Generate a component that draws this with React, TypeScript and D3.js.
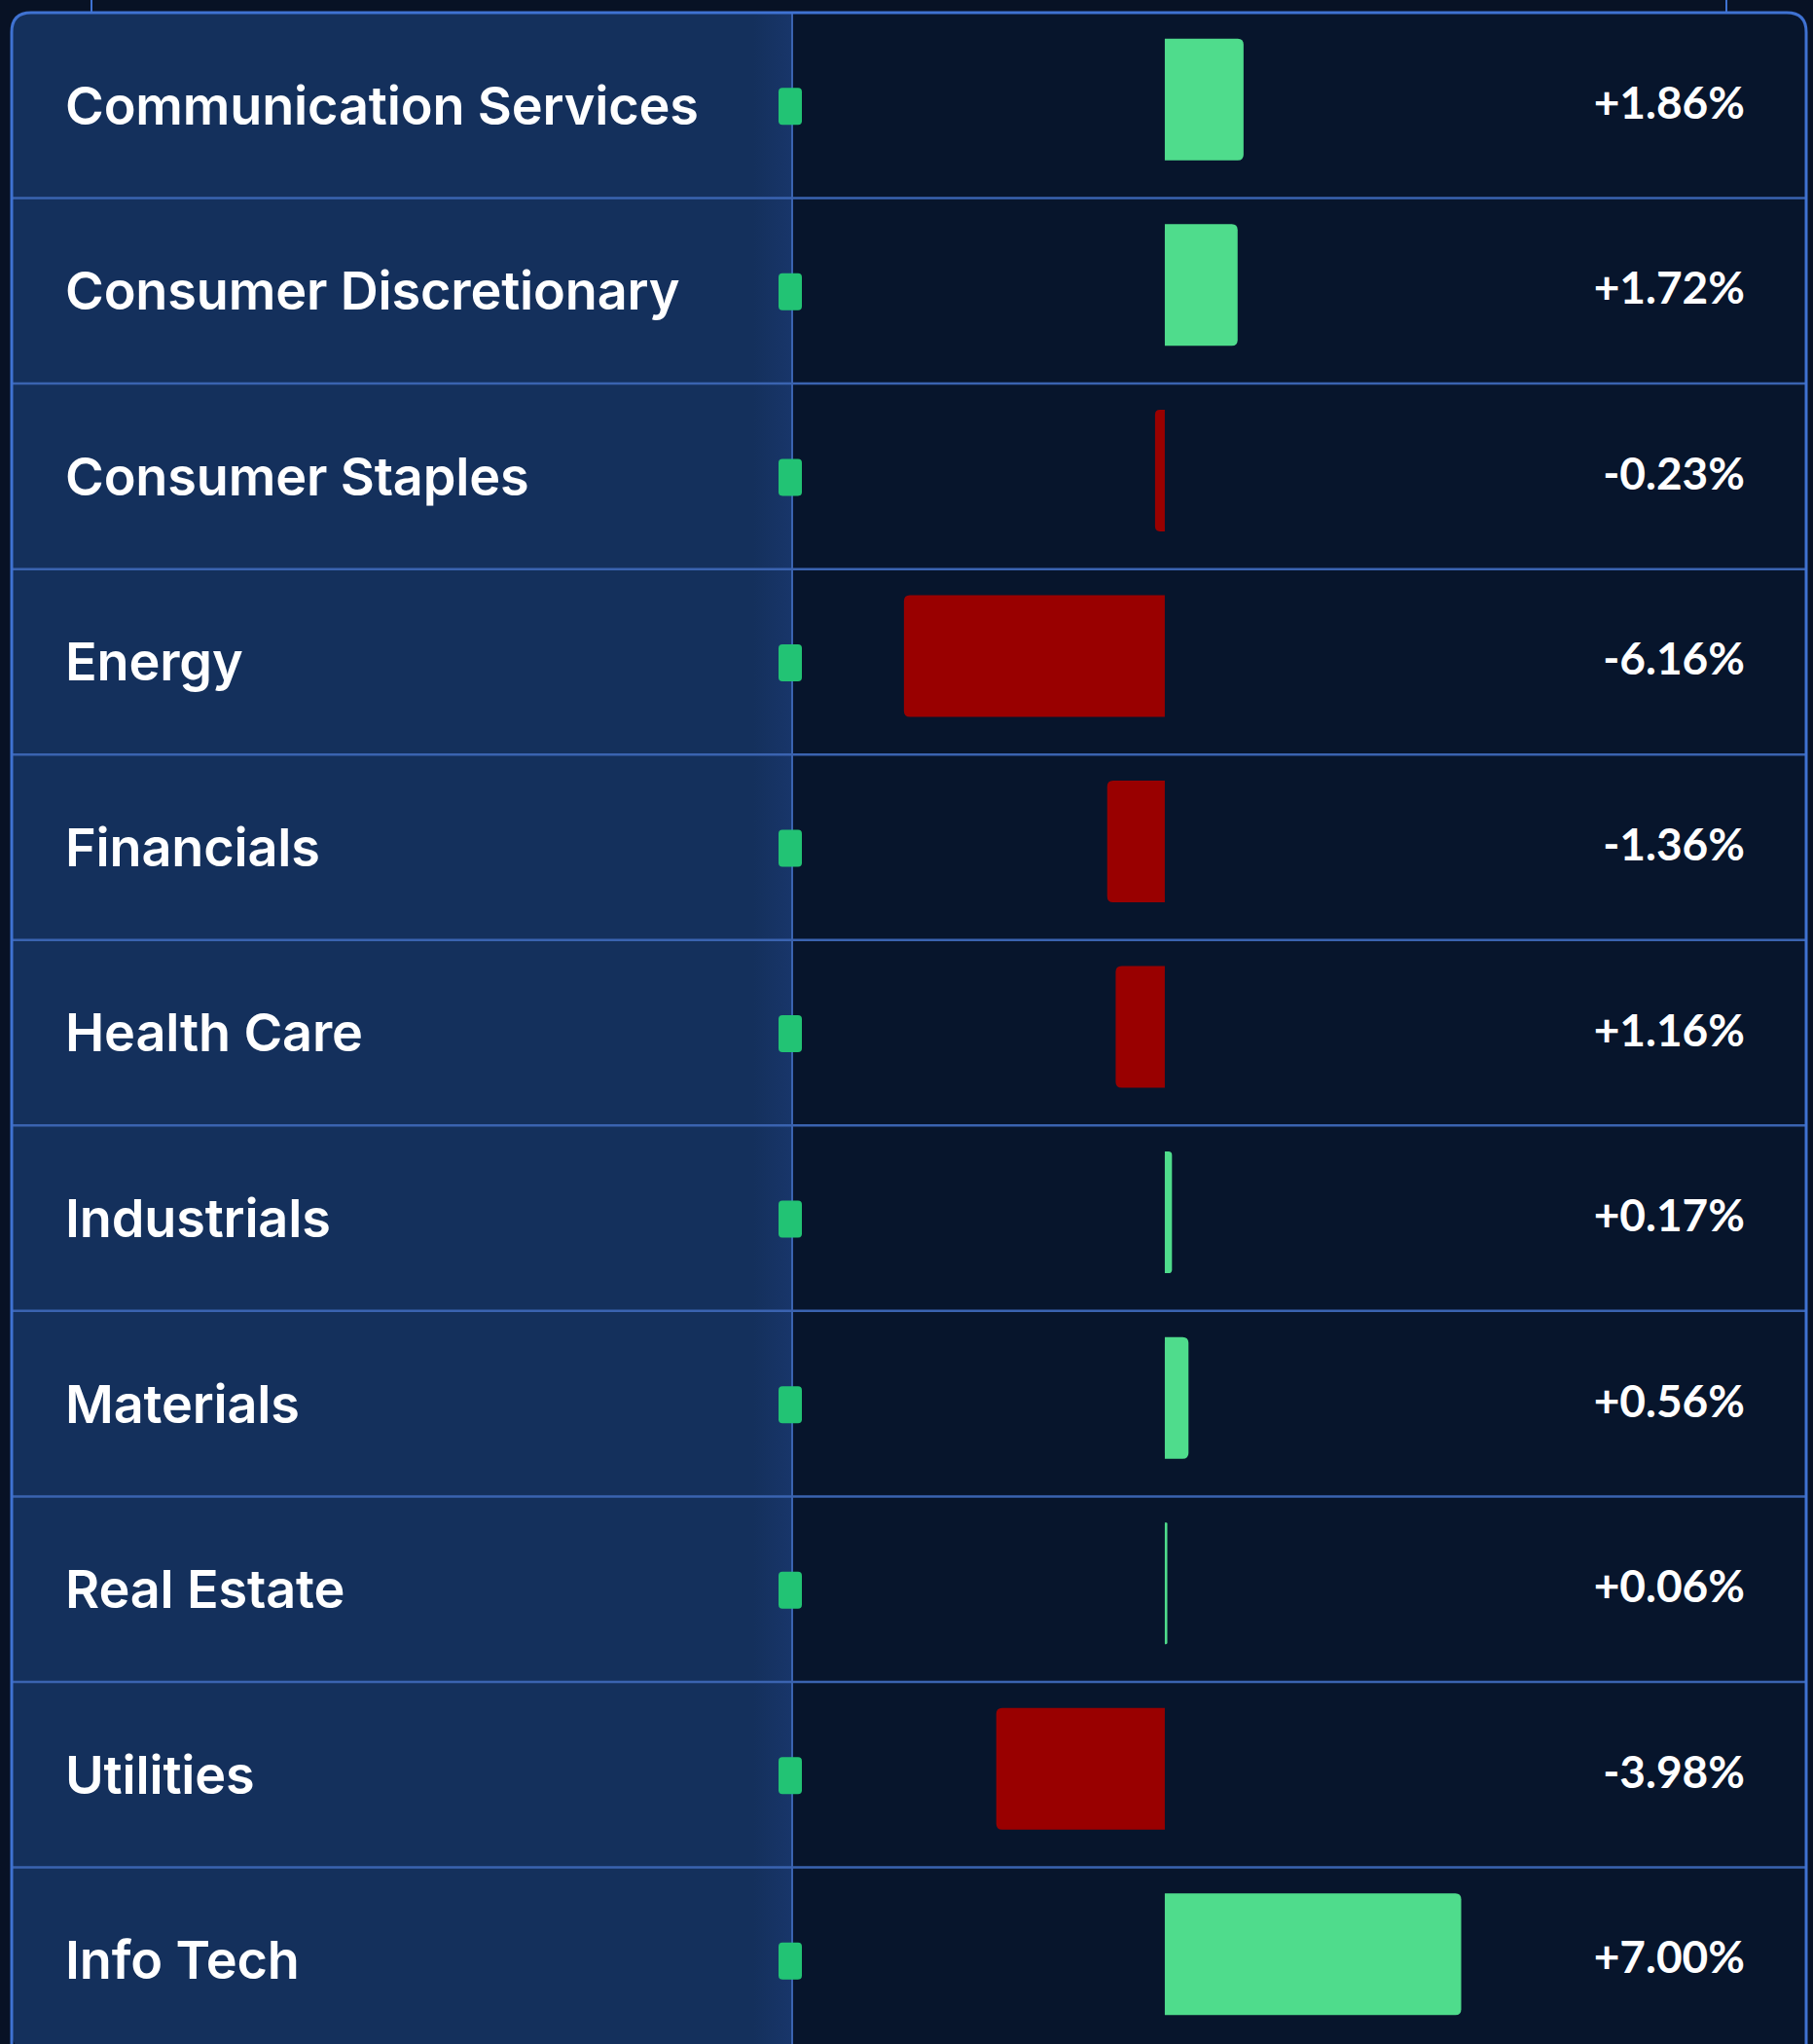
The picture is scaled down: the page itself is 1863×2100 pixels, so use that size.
import React from "react";
import * as d3 from "d3";

const categories = [
  "Communication Services",
  "Consumer Discretionary",
  "Consumer Staples",
  "Energy",
  "Financials",
  "Health Care",
  "Industrials",
  "Materials",
  "Real Estate",
  "Utilities",
  "Info Tech",
];

// bar values as drawn (Health Care bar is drawn negative in the source)
const barValues = [1.86, 1.72, -0.23, -6.16, -1.36, -1.16, 0.17, 0.56, 0.06, -3.98, 7.0];

const valueLabels = [
  "+1.86%",
  "+1.72%",
  "-0.23%",
  "-6.16%",
  "-1.36%",
  "+1.16%",
  "+0.17%",
  "+0.56%",
  "+0.06%",
  "-3.98%",
  "+7.00%",
];

const xDomain = [-8.8, 7.0];

const W = 1863;
const H = 2100;

const FRAME_L = 12;
const FRAME_R = 1856;
const FRAME_T = 13;
const ROW_H = 190.55;
const FRAME_B = FRAME_T + ROW_H * categories.length;
const SPLIT_X = 814;

const COLORS = {
  page: "#081225",
  left: "#14305c",
  right: "#07152c",
  sep: "#3a63b0",
  frame: "#3f72d2",
  pos: "#4fdc8c",
  neg: "#990000",
  marker: "#22c374",
  text: "#ffffff",
};

function barPath(x0: number, x1: number, y: number, h: number, r: number) {
  const positive = x1 >= x0;
  const w = Math.abs(x1 - x0);
  const rr = Math.min(r, w / 2, h / 2);
  if (positive) {
    return `M${x0},${y}H${x1 - rr}Q${x1},${y} ${x1},${y + rr}V${y + h - rr}Q${x1},${y + h} ${x1 - rr},${y + h}H${x0}Z`;
  }
  return `M${x0},${y}H${x1 + rr}Q${x1},${y} ${x1},${y + rr}V${y + h - rr}Q${x1},${y + h} ${x1 + rr},${y + h}H${x0}Z`;
}

export default function App() {
  const x = d3.scaleLinear().domain(xDomain).range([SPLIT_X, 1501.5]);
  const y = d3
    .scaleBand<string>()
    .domain(categories)
    .range([FRAME_T, FRAME_B])
    .padding(0);

  const barH = 125;
  const x0 = x(0);

  const clipId = "frameClip";
  const framePath = `M${FRAME_L},${FRAME_B}V${FRAME_T + 20}Q${FRAME_L},${FRAME_T} ${FRAME_L + 20},${FRAME_T}H${FRAME_R - 20}Q${FRAME_R},${FRAME_T} ${FRAME_R},${FRAME_T + 20}V${FRAME_B}`;

  return (
    <div style={{ position: "absolute", left: 0, top: 0, width: W, height: H, background: COLORS.page }}>
      <svg width={W} height={H} style={{ display: "block" }}>
        <defs>
          <clipPath id={clipId}>
            <rect x={FRAME_L} y={FRAME_T} width={FRAME_R - FRAME_L} height={FRAME_B - FRAME_T} rx={20} ry={20} />
          </clipPath>
          <linearGradient id="leftGlow" x1="0" x2="1" y1="0" y2="0">
            <stop offset="0" stopColor="#1a3870" stopOpacity="0" />
            <stop offset="1" stopColor="#1a3870" stopOpacity="0.7" />
          </linearGradient>
        </defs>
        <rect x={0} y={0} width={W} height={H} fill={COLORS.page} />
        <line x1={94} x2={94} y1={0} y2={FRAME_T} stroke={COLORS.frame} strokeWidth={2} />
        <line x1={1774} x2={1774} y1={0} y2={FRAME_T} stroke={COLORS.frame} strokeWidth={2} />
        <g clipPath={`url(#${clipId})`}>
          <rect x={FRAME_L} y={FRAME_T} width={SPLIT_X - FRAME_L} height={FRAME_B - FRAME_T} fill={COLORS.left} />
          <rect x={SPLIT_X - 40} y={FRAME_T} width={40} height={FRAME_B - FRAME_T} fill="url(#leftGlow)" />
          <rect x={SPLIT_X} y={FRAME_T} width={FRAME_R - SPLIT_X} height={FRAME_B - FRAME_T} fill={COLORS.right} />
          {categories.slice(1).map((c) => (
            <line
              key={"sep" + c}
              x1={FRAME_L}
              x2={FRAME_R}
              y1={y(c)!}
              y2={y(c)!}
              stroke={COLORS.sep}
              strokeWidth={2.5}
            />
          ))}
          <line x1={SPLIT_X} x2={SPLIT_X} y1={FRAME_T} y2={FRAME_B} stroke={COLORS.sep} strokeWidth={2} />
          {categories.map((c, i) => {
            const v = barValues[i];
            const yc = y(c)! + y.bandwidth() / 2;
            return (
              <path
                key={"bar" + c}
                d={barPath(x0, x(v), yc - 6 - barH / 2, barH, 6)}
                fill={v >= 0 ? COLORS.pos : COLORS.neg}
              />
            );
          })}
          {categories.map((c) => {
            const yc = y(c)! + y.bandwidth() / 2;
            return (
              <rect
                key={"mk" + c}
                x={800}
                y={yc - 19 + 1}
                width={24}
                height={38}
                rx={4}
                fill={COLORS.marker}
              />
            );
          })}
          {categories.map((c) => {
            const yc = y(c)! + y.bandwidth() / 2;
            return (
              <text
                key={"lb" + c}
                x={67}
                y={yc}
                dy="0.36em"
                fill={COLORS.text}
                fontFamily="Inter, 'Noto Sans', sans-serif"
                fontWeight={600}
                fontSize={54}
                letterSpacing={-0.15}
              >
                {c}
              </text>
            );
          })}
          {categories.map((c, i) => {
            const yc = y(c)! + y.bandwidth() / 2;
            return (
              <text
                key={"vl" + c}
                x={1793}
                y={yc - 3}
                dy="0.36em"
                textAnchor="end"
                fill={COLORS.text}
                fontFamily="Lato, 'Open Sans', sans-serif"
                fontWeight={700}
                fontSize={46}
              >
                {valueLabels[i]}
              </text>
            );
          })}
        </g>
        <path d={framePath} fill="none" stroke={COLORS.frame} strokeWidth={3} />
      </svg>
    </div>
  );
}
